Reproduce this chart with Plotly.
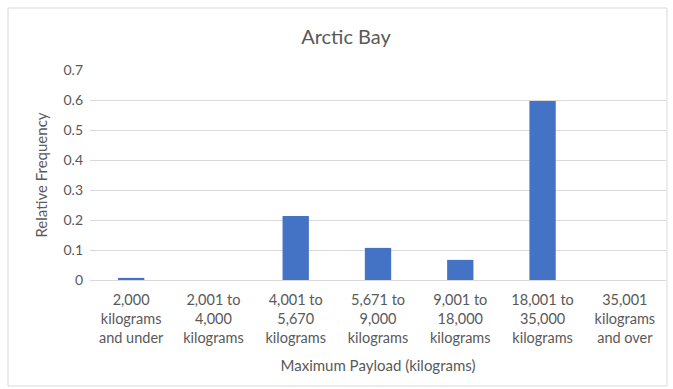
import plotly.graph_objects as go

categories = [
    "2,000<br>kilograms<br>and under",
    "2,001 to<br>4,000<br>kilograms",
    "4,001 to<br>5,670<br>kilograms",
    "5,671 to<br>9,000<br>kilograms",
    "9,001 to<br>18,000<br>kilograms",
    "18,001 to<br>35,000<br>kilograms",
    "35,001<br>kilograms<br>and over",
]
rel_freq = [0.007, 0.0, 0.213, 0.107, 0.067, 0.597, 0.0]

y_ticks = [0, 0.1, 0.2, 0.3, 0.4, 0.5, 0.6, 0.7]
y_tick_text = ["0", "0.1", "0.2", "0.3", "0.4", "0.5", "0.6", "0.7"]

W, H = 673, 389
ML, MR, MT, MB = 90, 7, 70, 109
pw, ph = W - ML - MR, H - MT - MB

text_color = "#595959"
grid_color = "#d9d9d9"
font = "Lato, Carlito, Calibri, sans-serif"

fig = go.Figure(
    go.Bar(
        x=list(range(len(categories))),
        y=rel_freq,
        marker=dict(color="#4472C4", line=dict(width=0)),
        width=0.32,
    )
)

# outer chart border (light gray frame)
fig.add_shape(
    type="rect", xref="paper", yref="paper",
    x0=(8 - ML) / pw, x1=(667 - ML) / pw,
    y0=(H - MB - 386) / ph, y1=(H - MB - 8) / ph,
    line=dict(color="#d9d9d9", width=1), fillcolor="rgba(0,0,0,0)",
    layer="below",
)

fig.update_layout(
    width=W, height=H,
    margin=dict(l=ML, r=MR, t=MT, b=MB),
    paper_bgcolor="white", plot_bgcolor="white",
    font=dict(family=font, color=text_color, size=14),
    title=dict(
        text="Arctic Bay", x=(346 - ML) / pw, xref="paper", xanchor="center",
        y=1 - 37 / H, yanchor="middle", yref="container",
        font=dict(size=20, color=text_color, family=font),
    ),
    showlegend=False,
    bargap=0.68,
)

fig.update_xaxes(
    tickmode="array", tickvals=list(range(len(categories))), ticktext=categories,
    range=[-0.5, len(categories) - 0.5],
    showgrid=False, zeroline=False, showline=True, linecolor=grid_color, linewidth=1,
    ticks="", ticklabelstandoff=7, tickfont=dict(size=14.5, color=text_color),
    title=dict(text="Maximum Payload (kilograms)", font=dict(size=15, color=text_color), standoff=15),
)

fig.update_yaxes(
    range=[0, 0.7], tickmode="array", tickvals=y_ticks, ticktext=y_tick_text,
    showgrid=True, gridcolor=grid_color, gridwidth=1, zeroline=False,
    showline=False, ticks="", ticklabelstandoff=6,
    tickfont=dict(size=14, color=text_color),
    title=dict(text="Relative Frequency", font=dict(size=15, color=text_color), standoff=12),
)

fig.write_html("out.html")
